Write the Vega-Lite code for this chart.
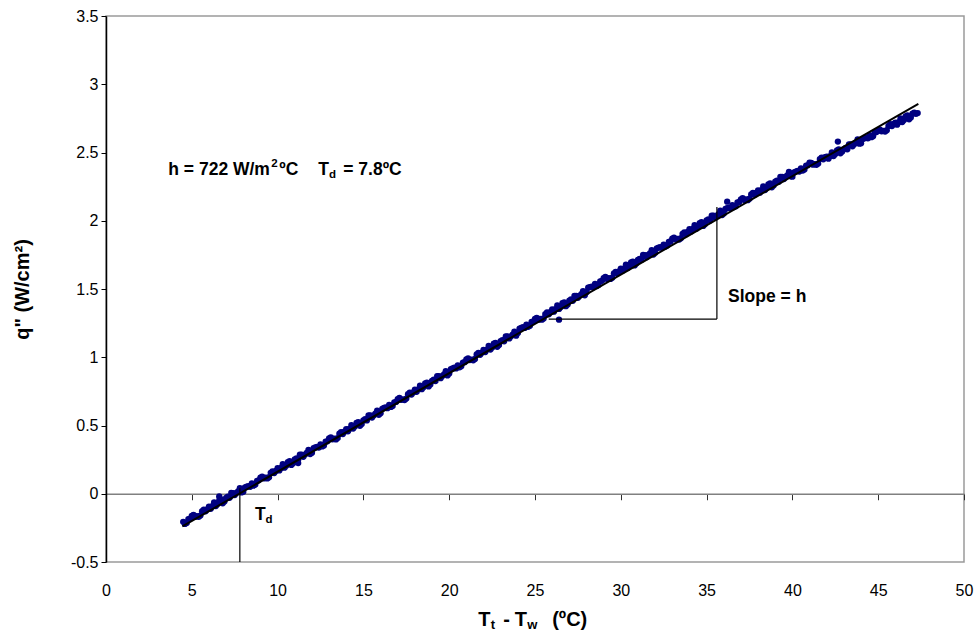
{
  "$schema": "https://vega.github.io/schema/vega-lite/v6.json",
  "width": 858,
  "height": 546,
  "autosize": "none",
  "padding": {"left": 106, "top": 16, "right": 15, "bottom": 79},
  "background": "white",
  "config": {
    "font": "Liberation Sans",
    "view": {"stroke": "#9a9a9a", "strokeWidth": 1.5},
    "axis": {"grid": false, "labelFont": "Liberation Sans", "titleFont": "Liberation Sans", "labelColor": "black", "titleColor": "black"},
    "text": {"font": "Liberation Sans", "fontWeight": "bold", "color": "black", "align": "left", "baseline": "middle"}
  },
  "datasets": {
    "pts": [
      {"T":4.5,"q":-0.206},{"T":4.7,"q":-0.214},{"T":4.9,"q":-0.183},{"T":5.1,"q":-0.155},{"T":5.3,"q":-0.164},{"T":5.5,"q":-0.160},{"T":5.7,"q":-0.117},{"T":5.9,"q":-0.114},{"T":6.1,"q":-0.110},{"T":6.3,"q":-0.064},
      {"T":6.5,"q":-0.076},{"T":6.7,"q":-0.042},{"T":6.9,"q":-0.057},{"T":7.1,"q":-0.021},{"T":7.3,"q":0.006},{"T":7.5,"q":-0.010},{"T":7.7,"q":0.018},{"T":7.9,"q":0.010},{"T":8.1,"q":0.047},{"T":8.3,"q":0.056},
      {"T":8.5,"q":0.075},{"T":8.7,"q":0.067},{"T":8.9,"q":0.098},{"T":9.1,"q":0.126},{"T":9.3,"q":0.117},{"T":9.5,"q":0.121},{"T":9.7,"q":0.164},{"T":9.9,"q":0.167},{"T":10.1,"q":0.171},{"T":10.3,"q":0.217},
      {"T":10.5,"q":0.205},{"T":10.7,"q":0.239},{"T":10.9,"q":0.224},{"T":11.1,"q":0.259},{"T":11.3,"q":0.287},{"T":11.5,"q":0.271},{"T":11.7,"q":0.299},{"T":11.9,"q":0.291},{"T":12.1,"q":0.334},{"T":12.3,"q":0.343},
      {"T":12.5,"q":0.362},{"T":12.7,"q":0.354},{"T":12.9,"q":0.384},{"T":13.1,"q":0.413},{"T":13.3,"q":0.403},{"T":13.5,"q":0.408},{"T":13.7,"q":0.451},{"T":13.9,"q":0.454},{"T":14.1,"q":0.458},{"T":14.3,"q":0.503},
      {"T":14.5,"q":0.492},{"T":14.7,"q":0.525},{"T":14.9,"q":0.511},{"T":15.1,"q":0.546},{"T":15.3,"q":0.574},{"T":15.5,"q":0.558},{"T":15.7,"q":0.586},{"T":15.9,"q":0.578},{"T":16.1,"q":0.622},{"T":16.3,"q":0.632},
      {"T":16.5,"q":0.650},{"T":16.7,"q":0.643},{"T":16.9,"q":0.673},{"T":17.1,"q":0.702},{"T":17.3,"q":0.692},{"T":17.5,"q":0.697},{"T":17.7,"q":0.740},{"T":17.9,"q":0.742},{"T":18.1,"q":0.747},{"T":18.3,"q":0.792},
      {"T":18.5,"q":0.781},{"T":18.7,"q":0.814},{"T":18.9,"q":0.800},{"T":19.1,"q":0.835},{"T":19.3,"q":0.862},{"T":19.5,"q":0.847},{"T":19.7,"q":0.874},{"T":19.9,"q":0.867},{"T":20.1,"q":0.913},{"T":20.3,"q":0.923},
      {"T":20.5,"q":0.941},{"T":20.7,"q":0.934},{"T":20.9,"q":0.964},{"T":21.1,"q":0.992},{"T":21.3,"q":0.983},{"T":21.5,"q":0.987},{"T":21.7,"q":1.031},{"T":21.9,"q":1.033},{"T":22.1,"q":1.038},{"T":22.3,"q":1.083},
      {"T":22.5,"q":1.072},{"T":22.7,"q":1.105},{"T":22.9,"q":1.090},{"T":23.1,"q":1.126},{"T":23.3,"q":1.153},{"T":23.5,"q":1.138},{"T":23.7,"q":1.165},{"T":23.9,"q":1.158},{"T":24.1,"q":1.210},{"T":24.3,"q":1.220},
      {"T":24.5,"q":1.238},{"T":24.7,"q":1.230},{"T":24.9,"q":1.261},{"T":25.1,"q":1.289},{"T":25.3,"q":1.280},{"T":25.5,"q":1.284},{"T":25.7,"q":1.328},{"T":25.9,"q":1.330},{"T":26.1,"q":1.334},{"T":26.3,"q":1.380},
      {"T":26.5,"q":1.368},{"T":26.7,"q":1.402},{"T":26.9,"q":1.387},{"T":27.1,"q":1.423},{"T":27.3,"q":1.450},{"T":27.5,"q":1.435},{"T":27.7,"q":1.462},{"T":27.9,"q":1.454},{"T":28.1,"q":1.509},{"T":28.3,"q":1.518},
      {"T":28.5,"q":1.537},{"T":28.7,"q":1.529},{"T":28.9,"q":1.560},{"T":29.1,"q":1.588},{"T":29.3,"q":1.579},{"T":29.5,"q":1.583},{"T":29.7,"q":1.626},{"T":29.9,"q":1.629},{"T":30.1,"q":1.633},{"T":30.3,"q":1.679},
      {"T":30.5,"q":1.667},{"T":30.7,"q":1.701},{"T":30.9,"q":1.686},{"T":31.1,"q":1.721},{"T":31.3,"q":1.749},{"T":31.5,"q":1.733},{"T":31.7,"q":1.761},{"T":31.9,"q":1.753},{"T":32.1,"q":1.798},{"T":32.3,"q":1.807},
      {"T":32.5,"q":1.825},{"T":32.7,"q":1.818},{"T":32.9,"q":1.848},{"T":33.1,"q":1.877},{"T":33.3,"q":1.867},{"T":33.5,"q":1.872},{"T":33.7,"q":1.915},{"T":33.9,"q":1.918},{"T":34.1,"q":1.922},{"T":34.3,"q":1.967},
      {"T":34.5,"q":1.956},{"T":34.7,"q":1.989},{"T":34.9,"q":1.975},{"T":35.1,"q":2.010},{"T":35.3,"q":2.038},{"T":35.5,"q":2.022},{"T":35.7,"q":2.049},{"T":35.9,"q":2.042},{"T":36.1,"q":2.086},{"T":36.3,"q":2.096},
      {"T":36.5,"q":2.114},{"T":36.7,"q":2.107},{"T":36.9,"q":2.137},{"T":37.1,"q":2.166},{"T":37.3,"q":2.156},{"T":37.5,"q":2.161},{"T":37.7,"q":2.204},{"T":37.9,"q":2.206},{"T":38.1,"q":2.206},{"T":38.3,"q":2.251},
      {"T":38.5,"q":2.240},{"T":38.7,"q":2.273},{"T":38.9,"q":2.259},{"T":39.1,"q":2.294},{"T":39.3,"q":2.322},{"T":39.5,"q":2.306},{"T":39.7,"q":2.333},{"T":39.9,"q":2.326},{"T":40.1,"q":2.355},{"T":40.3,"q":2.365},
      {"T":40.5,"q":2.383},{"T":40.7,"q":2.376},{"T":40.9,"q":2.406},{"T":41.1,"q":2.424},{"T":41.3,"q":2.415},{"T":41.5,"q":2.419},{"T":41.7,"q":2.463},{"T":41.9,"q":2.465},{"T":42.1,"q":2.455},{"T":42.3,"q":2.500},
      {"T":42.5,"q":2.489},{"T":42.7,"q":2.522},{"T":42.9,"q":2.507},{"T":43.1,"q":2.533},{"T":43.3,"q":2.560},{"T":43.5,"q":2.545},{"T":43.7,"q":2.572},{"T":43.9,"q":2.565},{"T":44.1,"q":2.599},{"T":44.3,"q":2.609},
      {"T":44.5,"q":2.627},{"T":44.7,"q":2.619},{"T":44.9,"q":2.650},{"T":45.1,"q":2.668},{"T":45.3,"q":2.659},{"T":45.5,"q":2.663},{"T":45.7,"q":2.707},{"T":45.9,"q":2.709},{"T":46.1,"q":2.704},{"T":46.3,"q":2.749},
      {"T":46.5,"q":2.738},{"T":46.7,"q":2.771},{"T":46.9,"q":2.756},{"T":47.1,"q":2.792},{"T":47.3,"q":2.789},
      {"T":4.6,"q":-0.221},{"T":4.8,"q":-0.186},{"T":5.0,"q":-0.163},{"T":5.2,"q":-0.169},{"T":5.4,"q":-0.169},{"T":5.6,"q":-0.128},{"T":5.8,"q":-0.129},{"T":6.0,"q":-0.094},{"T":6.2,"q":-0.091},{"T":6.4,"q":-0.090},
      {"T":6.6,"q":-0.048},{"T":6.8,"q":-0.070},{"T":7.0,"q":-0.030},{"T":7.2,"q":-0.030},{"T":7.4,"q":0.005},{"T":7.6,"q":0.006},{"T":7.8,"q":0.041},{"T":8.0,"q":0.015},{"T":8.2,"q":0.052},{"T":8.4,"q":0.051},
      {"T":8.6,"q":0.060},{"T":8.8,"q":0.094},{"T":9.0,"q":0.118},{"T":9.2,"q":0.112},{"T":9.4,"q":0.112},{"T":9.6,"q":0.153},{"T":9.8,"q":0.152},{"T":10.0,"q":0.187},{"T":10.2,"q":0.189},{"T":10.4,"q":0.191},
      {"T":10.6,"q":0.232},{"T":10.8,"q":0.211},{"T":11.0,"q":0.251},{"T":11.2,"q":0.251},{"T":11.4,"q":0.286},{"T":11.6,"q":0.287},{"T":11.8,"q":0.322},{"T":12.0,"q":0.301},{"T":12.2,"q":0.339},{"T":12.4,"q":0.338},
      {"T":12.6,"q":0.347},{"T":12.8,"q":0.381},{"T":13.0,"q":0.405},{"T":13.2,"q":0.399},{"T":13.4,"q":0.398},{"T":13.6,"q":0.440},{"T":13.8,"q":0.438},{"T":14.0,"q":0.474},{"T":14.2,"q":0.476},{"T":14.4,"q":0.478},
      {"T":14.6,"q":0.519},{"T":14.8,"q":0.498},{"T":15.0,"q":0.538},{"T":15.2,"q":0.537},{"T":15.4,"q":0.573},{"T":15.6,"q":0.573},{"T":15.8,"q":0.609},{"T":16.0,"q":0.590},{"T":16.2,"q":0.628},{"T":16.4,"q":0.627},
      {"T":16.6,"q":0.636},{"T":16.8,"q":0.670},{"T":17.0,"q":0.693},{"T":17.2,"q":0.688},{"T":17.4,"q":0.687},{"T":17.6,"q":0.729},{"T":17.8,"q":0.727},{"T":18.0,"q":0.763},{"T":18.2,"q":0.765},{"T":18.4,"q":0.766},
      {"T":18.6,"q":0.808},{"T":18.8,"q":0.786},{"T":19.0,"q":0.827},{"T":19.2,"q":0.826},{"T":19.4,"q":0.862},{"T":19.6,"q":0.862},{"T":19.8,"q":0.898},{"T":20.0,"q":0.881},{"T":20.2,"q":0.918},{"T":20.4,"q":0.918},
      {"T":20.6,"q":0.926},{"T":20.8,"q":0.961},{"T":21.0,"q":0.984},{"T":21.2,"q":0.979},{"T":21.4,"q":0.978},{"T":21.6,"q":1.020},{"T":21.8,"q":1.018},{"T":22.0,"q":1.053},{"T":22.2,"q":1.056},{"T":22.4,"q":1.057},
      {"T":22.6,"q":1.099},{"T":22.8,"q":1.077},{"T":23.0,"q":1.118},{"T":23.2,"q":1.117},{"T":23.4,"q":1.152},{"T":23.6,"q":1.153},{"T":23.8,"q":1.188},{"T":24.0,"q":1.178},{"T":24.2,"q":1.215},{"T":24.4,"q":1.215},
      {"T":24.6,"q":1.223},{"T":24.8,"q":1.258},{"T":25.0,"q":1.281},{"T":25.2,"q":1.275},{"T":25.4,"q":1.275},{"T":25.6,"q":1.316},{"T":25.8,"q":1.315},{"T":26.0,"q":1.350},{"T":26.2,"q":1.353},{"T":26.4,"q":1.354},
      {"T":26.6,"q":1.396},{"T":26.8,"q":1.374},{"T":27.0,"q":1.414},{"T":27.2,"q":1.414},{"T":27.4,"q":1.449},{"T":27.6,"q":1.450},{"T":27.8,"q":1.485},{"T":28.0,"q":1.477},{"T":28.2,"q":1.514},{"T":28.4,"q":1.513},
      {"T":28.6,"q":1.522},{"T":28.8,"q":1.556},{"T":29.0,"q":1.580},{"T":29.2,"q":1.574},{"T":29.4,"q":1.574},{"T":29.6,"q":1.615},{"T":29.8,"q":1.614},{"T":30.0,"q":1.649},{"T":30.2,"q":1.651},{"T":30.4,"q":1.653},
      {"T":30.6,"q":1.694},{"T":30.8,"q":1.673},{"T":31.0,"q":1.713},{"T":31.2,"q":1.713},{"T":31.4,"q":1.748},{"T":31.6,"q":1.749},{"T":31.8,"q":1.784},{"T":32.0,"q":1.765},{"T":32.2,"q":1.803},{"T":32.4,"q":1.802},
      {"T":32.6,"q":1.811},{"T":32.8,"q":1.845},{"T":33.0,"q":1.869},{"T":33.2,"q":1.863},{"T":33.4,"q":1.862},{"T":33.6,"q":1.904},{"T":33.8,"q":1.902},{"T":34.0,"q":1.938},{"T":34.2,"q":1.940},{"T":34.4,"q":1.942},
      {"T":34.6,"q":1.983},{"T":34.8,"q":1.962},{"T":35.0,"q":2.002},{"T":35.2,"q":2.001},{"T":35.4,"q":2.037},{"T":35.6,"q":2.037},{"T":35.8,"q":2.073},{"T":36.0,"q":2.054},{"T":36.2,"q":2.092},{"T":36.4,"q":2.091},
      {"T":36.6,"q":2.100},{"T":36.8,"q":2.134},{"T":37.0,"q":2.157},{"T":37.2,"q":2.152},{"T":37.4,"q":2.151},{"T":37.6,"q":2.193},{"T":37.8,"q":2.191},{"T":38.0,"q":2.222},{"T":38.2,"q":2.224},{"T":38.4,"q":2.225},
      {"T":38.6,"q":2.267},{"T":38.8,"q":2.245},{"T":39.0,"q":2.286},{"T":39.2,"q":2.285},{"T":39.4,"q":2.321},{"T":39.6,"q":2.321},{"T":39.8,"q":2.357},{"T":40.0,"q":2.323},{"T":40.2,"q":2.360},{"T":40.4,"q":2.360},
      {"T":40.6,"q":2.368},{"T":40.8,"q":2.403},{"T":41.0,"q":2.426},{"T":41.2,"q":2.411},{"T":41.4,"q":2.410},{"T":41.6,"q":2.452},{"T":41.8,"q":2.450},{"T":42.0,"q":2.470},{"T":42.2,"q":2.473},{"T":42.4,"q":2.474},
      {"T":42.6,"q":2.516},{"T":42.8,"q":2.494},{"T":43.0,"q":2.525},{"T":43.2,"q":2.524},{"T":43.4,"q":2.559},{"T":43.6,"q":2.560},{"T":43.8,"q":2.595},{"T":44.0,"q":2.567},{"T":44.2,"q":2.604},{"T":44.4,"q":2.604},
      {"T":44.6,"q":2.612},{"T":44.8,"q":2.647},{"T":45.0,"q":2.660},{"T":45.2,"q":2.655},{"T":45.4,"q":2.654},{"T":45.6,"q":2.695},{"T":45.8,"q":2.694},{"T":46.0,"q":2.719},{"T":46.2,"q":2.722},{"T":46.4,"q":2.723},
      {"T":46.6,"q":2.765},{"T":46.8,"q":2.743},{"T":47.0,"q":2.784},{"T":47.2,"q":2.783},
      {"T":26.4,"q":1.275},{"T":6.6,"q":-0.02},{"T":42.65,"q":2.58},{"T":36.2,"q":2.14},{"T":11.2,"q":0.225}
    ],
    "fit": [{"T":4.45,"q":-0.239},{"T":47.34,"q":2.857}],
    "guides": [
      {"x1":7.8,"x2":7.8,"y1":0.04,"y2":-0.5},
      {"x1":25.8,"x2":35.6,"y1":1.28,"y2":1.28},
      {"x1":35.6,"x2":35.6,"y1":1.28,"y2":2.1}
    ],
    "annH": [{"T":3.63,"q":2.374}],
    "annTd": [{"T":8.68,"q":-0.154}],
    "annSlope": [{"T":36.25,"q":1.443}],
    "xTitle": [{"T":21.69,"q":-0.923}]
  },
  "layer": [
    {
      "data": {"name": "pts"},
      "mark": {"type": "circle", "color": "#000080", "size": 40, "opacity": 1},
      "encoding": {
        "x": {"field": "T", "type": "quantitative",
          "scale": {"domain": [0, 50], "nice": false, "zero": false},
          "axis": {"title": null, "values": [0,5,10,15,20,25,30,35,40,45,50], "offset": -68.25,
            "domainColor": "#808080", "domainWidth": 1.5, "tickColor": "#303030", "tickSize": 6, "tickWidth": 1,
            "labelPadding": 83, "labelFontSize": 16, "labelFlush": false, "labelOverlap": false, "format": "d"}},
        "y": {"field": "q", "type": "quantitative",
          "scale": {"domain": [-0.5, 3.5], "nice": false, "zero": false},
          "axis": {"title": "q\" (W/cm²)", "values": [-0.5,0,0.5,1,1.5,2,2.5,3,3.5],
            "labelExpr": "datum.value < 0 ? '-' + format(-datum.value, '~g') : format(datum.value, '~g')",
            "domainColor": "black", "domainWidth": 1.5, "tickColor": "black", "tickSize": 5,
            "labelPadding": 3, "labelFontSize": 16, "labelFlush": false, "labelOverlap": false,
            "titleFontSize": 20, "titleFontWeight": "bold", "titleX": -84, "titleY": 273,
            "titleAngle": -90, "titleAlign": "center", "titleBaseline": "middle"}}
      }
    },
    {
      "data": {"name": "fit"},
      "mark": {"type": "line", "color": "black", "strokeWidth": 2},
      "encoding": {"x": {"field": "T", "type": "quantitative"}, "y": {"field": "q", "type": "quantitative"}}
    },
    {
      "data": {"name": "guides"},
      "mark": {"type": "rule", "color": "black", "strokeWidth": 1.2},
      "encoding": {"x": {"field": "x1", "type": "quantitative"}, "x2": {"field": "x2"}, "y": {"field": "y1", "type": "quantitative"}, "y2": {"field": "y2"}}
    },
    {"data": {"name": "annH"}, "mark": {"type": "text", "text": "h = 722 W/m", "fontSize": 17.5, "dx": 0},
      "encoding": {"x": {"field": "T", "type": "quantitative"}, "y": {"field": "q", "type": "quantitative"}}},
    {"data": {"name": "annH"}, "mark": {"type": "text", "text": "2", "fontSize": 11.5, "dx": 103, "dy": -6},
      "encoding": {"x": {"field": "T", "type": "quantitative"}, "y": {"field": "q", "type": "quantitative"}}},
    {"data": {"name": "annH"}, "mark": {"type": "text", "text": "ºC", "fontSize": 17.5, "dx": 111},
      "encoding": {"x": {"field": "T", "type": "quantitative"}, "y": {"field": "q", "type": "quantitative"}}},
    {"data": {"name": "annH"}, "mark": {"type": "text", "text": "T", "fontSize": 17.5, "dx": 150},
      "encoding": {"x": {"field": "T", "type": "quantitative"}, "y": {"field": "q", "type": "quantitative"}}},
    {"data": {"name": "annH"}, "mark": {"type": "text", "text": "d", "fontSize": 11.5, "dx": 160.7, "dy": 5},
      "encoding": {"x": {"field": "T", "type": "quantitative"}, "y": {"field": "q", "type": "quantitative"}}},
    {"data": {"name": "annH"}, "mark": {"type": "text", "text": "= 7.8ºC", "fontSize": 17.5, "dx": 175},
      "encoding": {"x": {"field": "T", "type": "quantitative"}, "y": {"field": "q", "type": "quantitative"}}},
    {"data": {"name": "annTd"}, "mark": {"type": "text", "text": "T", "fontSize": 17.5, "dx": 0},
      "encoding": {"x": {"field": "T", "type": "quantitative"}, "y": {"field": "q", "type": "quantitative"}}},
    {"data": {"name": "annTd"}, "mark": {"type": "text", "text": "d", "fontSize": 11.5, "dx": 10.5, "dy": 5},
      "encoding": {"x": {"field": "T", "type": "quantitative"}, "y": {"field": "q", "type": "quantitative"}}},
    {"data": {"name": "annSlope"}, "mark": {"type": "text", "text": "Slope = h", "fontSize": 17.5},
      "encoding": {"x": {"field": "T", "type": "quantitative"}, "y": {"field": "q", "type": "quantitative"}}},
    {"data": {"name": "xTitle"}, "mark": {"type": "text", "text": "T", "fontSize": 20, "dx": 0, "clip": false},
      "encoding": {"x": {"field": "T", "type": "quantitative"}, "y": {"field": "q", "type": "quantitative"}}},
    {"data": {"name": "xTitle"}, "mark": {"type": "text", "text": "t", "fontSize": 13, "dx": 12.5, "dy": 5, "clip": false},
      "encoding": {"x": {"field": "T", "type": "quantitative"}, "y": {"field": "q", "type": "quantitative"}}},
    {"data": {"name": "xTitle"}, "mark": {"type": "text", "text": "-", "fontSize": 20, "dx": 25, "clip": false},
      "encoding": {"x": {"field": "T", "type": "quantitative"}, "y": {"field": "q", "type": "quantitative"}}},
    {"data": {"name": "xTitle"}, "mark": {"type": "text", "text": "T", "fontSize": 20, "dx": 36.5, "clip": false},
      "encoding": {"x": {"field": "T", "type": "quantitative"}, "y": {"field": "q", "type": "quantitative"}}},
    {"data": {"name": "xTitle"}, "mark": {"type": "text", "text": "w", "fontSize": 13, "dx": 49, "dy": 5, "clip": false},
      "encoding": {"x": {"field": "T", "type": "quantitative"}, "y": {"field": "q", "type": "quantitative"}}},
    {"data": {"name": "xTitle"}, "mark": {"type": "text", "text": "(ºC)", "fontSize": 20, "dx": 74, "clip": false},
      "encoding": {"x": {"field": "T", "type": "quantitative"}, "y": {"field": "q", "type": "quantitative"}}}
  ]
}
